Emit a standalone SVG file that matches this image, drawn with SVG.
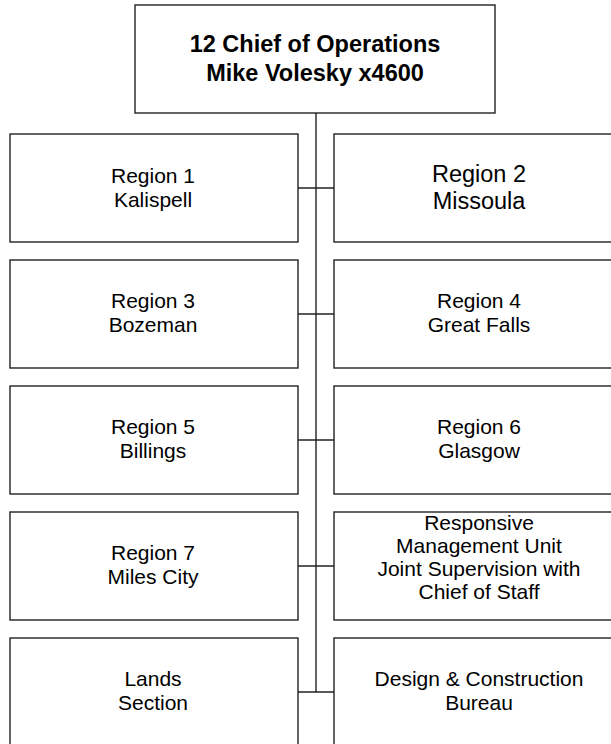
<svg xmlns="http://www.w3.org/2000/svg" width="611" height="744" viewBox="0 0 611 744">
<style>
.box{fill:#fff;stroke:#222;stroke-width:1.4}
.t{font-family:"Liberation Sans",Arial,sans-serif;font-size:21px;fill:#000;text-anchor:middle}
.b{font-weight:bold;font-size:23.5px}
.big{font-size:23.5px}
.conn line{stroke:#222;stroke-width:1.4}
</style>
<rect width="611" height="744" fill="#fff"/>
<g class="conn">
<line x1="316" y1="113" x2="316" y2="692"/>
<line x1="298" y1="188" x2="334" y2="188"/>
<line x1="298" y1="314" x2="334" y2="314"/>
<line x1="298" y1="440" x2="334" y2="440"/>
<line x1="298" y1="566" x2="334" y2="566"/>
<line x1="298" y1="692" x2="334" y2="692"/>
</g>
<g id="chief">
<rect class="box" x="135" y="5" width="360" height="108"/>
<text class="t b" x="315" y="52">12 Chief of Operations</text>
<text class="t b" x="315" y="81">Mike Volesky x4600</text>
</g>
<g id="region1">
<rect class="box" x="10" y="134" width="288" height="108"/>
<text class="t" x="153" y="183">Region 1</text>
<text class="t" x="153" y="207">Kalispell</text>
</g>
<g id="region2">
<rect class="box" x="334" y="134" width="288" height="108"/>
<text class="t big" x="479" y="182">Region 2</text>
<text class="t big" x="479" y="209">Missoula</text>
</g>
<g id="region3">
<rect class="box" x="10" y="260" width="288" height="108"/>
<text class="t" x="153" y="308">Region 3</text>
<text class="t" x="153" y="332">Bozeman</text>
</g>
<g id="region4">
<rect class="box" x="334" y="260" width="288" height="108"/>
<text class="t" x="479" y="308">Region 4</text>
<text class="t" x="479" y="332">Great Falls</text>
</g>
<g id="region5">
<rect class="box" x="10" y="386" width="288" height="108"/>
<text class="t" x="153" y="434">Region 5</text>
<text class="t" x="153" y="458">Billings</text>
</g>
<g id="region6">
<rect class="box" x="334" y="386" width="288" height="108"/>
<text class="t" x="479" y="434">Region 6</text>
<text class="t" x="479" y="458">Glasgow</text>
</g>
<g id="region7">
<rect class="box" x="10" y="512" width="288" height="108"/>
<text class="t" x="153" y="560">Region 7</text>
<text class="t" x="153" y="584">Miles City</text>
</g>
<g id="rmu">
<rect class="box" x="334" y="512" width="288" height="108"/>
<text class="t" x="479" y="530">Responsive</text>
<text class="t" x="479" y="553">Management Unit</text>
<text class="t" x="479" y="576">Joint Supervision with</text>
<text class="t" x="479" y="599">Chief of Staff</text>
</g>
<g id="lands">
<rect class="box" x="10" y="638" width="288" height="120"/>
<text class="t" x="153" y="686">Lands</text>
<text class="t" x="153" y="710">Section</text>
</g>
<g id="design">
<rect class="box" x="334" y="638" width="288" height="120"/>
<text class="t" x="479" y="686">Design &amp; Construction</text>
<text class="t" x="479" y="710">Bureau</text>
</g>
</svg>
